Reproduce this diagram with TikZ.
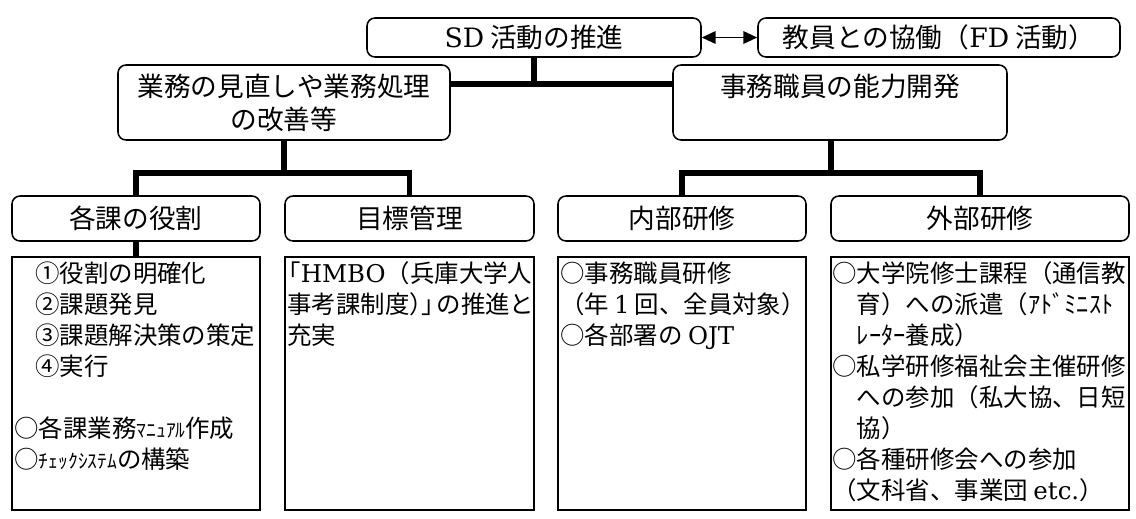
\documentclass[tikz,border=0pt]{standalone}
\usepackage{fontspec}
\setmainfont{Noto Sans CJK JP}
\newfontfamily\lat{DejaVu Serif}
\usetikzlibrary{arrows.meta}
\newdimen\px \px=0.45pt
\tikzset{
  tbox/.style={draw, line width=0.7pt, rounded corners=3.6pt, inner sep=0pt,
    font=\fontsize{12pt}{14.85pt}\selectfont, align=center},
  xbox/.style={draw, line width=0.8pt, inner sep=0pt},
  conn/.style={line width=2.6pt, line join=miter},
  btext/.style={anchor=north west, inner sep=0pt, align=left,
    font=\fontsize{11pt}{13.95pt}\selectfont},
  dblarrow/.style={line width=0.8pt,
    {Triangle[length=6.2pt,width=5.6pt]}-{Triangle[length=6.2pt,width=5.6pt]}}
}
\newcommand\hk[1]{{\fontsize{8.8pt}{13.95pt}\selectfont #1}}
\begin{document}
\begin{tikzpicture}[x=0.45pt,y=-0.45pt]
\fill[white] (0,0) rectangle (1136,518);
\useasboundingbox (0,0) rectangle (1136,518);

% top row
\node[tbox, minimum width=334\px, minimum height=39\px] (sd) at (534,37.5) {{\lat SD} 活動の推進};
\node[tbox, minimum width=362\px, minimum height=39\px] (ky) at (939,37.5) {教員との協働（{\lat FD} 活動）};
\draw[dblarrow] (sd.east) -- (ky.west);

% second row
\node[tbox, minimum width=332\px, minimum height=75\px] (gy) at (284,102.5) {業務の見直しや業務処理\\の改善等};
\node[tbox, minimum width=334\px, minimum height=75\px] (jm) at (840,102.5) {事務職員の能力開発\\\phantom{事}};

% third row
\node[tbox, minimum width=248\px, minimum height=45\px] (kk) at (136,218.5) {各課の役割};
\node[tbox, minimum width=249\px, minimum height=45\px] (mk) at (409.5,218.5) {目標管理};
\node[tbox, minimum width=248\px, minimum height=45\px] (nb) at (682,218.5) {内部研修};
\node[tbox, minimum width=298\px, minimum height=45\px] (gb) at (980,218.5) {外部研修};

% text boxes
\node[xbox, minimum width=248\px, minimum height=253\px] (kt) at (136,383.5) {};
\node[xbox, minimum width=249\px, minimum height=253\px] (mt) at (409.5,383.5) {};
\node[xbox, minimum width=248\px, minimum height=253\px] (nt) at (682,383.5) {};
\node[xbox, minimum width=298\px, minimum height=253\px] (gt) at (980,383.5) {};

% connectors
\coordinate (j1) at (534,84);
\coordinate (j2) at (284,173);
\coordinate (j3) at (831,173);
\draw[conn] (sd.south) -- (j1);
\draw[conn] (gy.east |- j1) -- (jm.west |- j1);
\draw[conn] (gy.south) -- (j2);
\draw[conn] (kk.north) -- (kk.north |- j2) -- (mk.north |- j2) -- (mk.north);
\draw[conn] (jm.south -| j3) -- (j3);
\draw[conn] (nb.north) -- (nb.north |- j3) -- (gb.north |- j3) -- (gb.north);
\draw[conn] (kk.south) -- (kt.north);

% texts
\node[btext] (ktx) at (14,261) {\hspace*{0.85em}①役割の明確化\\\hspace*{0.85em}②課題発見\\\hspace*{0.85em}③課題解決策の策定\\\hspace*{0.85em}④実行\\\mbox{}\\○各課業務\hk{ﾏﾆｭｱﾙ}作成\\○\hk{ﾁｪｯｸｼｽﾃﾑ}の構築};
\node[btext] (mtx) at (287,261) {\kern-0.45em「{\lat HMBO}（兵庫大学人\\事考課制度）\kern-0.5em」\kern-0.4em の推進と\\充実};
\node[btext] (ntx) at (560,261) {○事務職員研修\\（年\hspace{0.2em}{\lat 1}\hspace{0.2em}回、全員対象）\\○各部署の {\lat OJT}};
\node[btext] (gtx) at (832,261) {○大学院修士課程（通信教\\\hspace*{1em}育）への派遣（ｱﾄﾞﾐﾆｽﾄ\\\hspace*{1em}ﾚｰﾀｰ養成）\\○私学研修福祉会主催研修\\\hspace*{1em}への参加（私大協、日短\\\hspace*{1em}協）\\○各種研修会への参加\\（文科省、事業団 {\lat etc.}）};
\end{tikzpicture}
\end{document}
